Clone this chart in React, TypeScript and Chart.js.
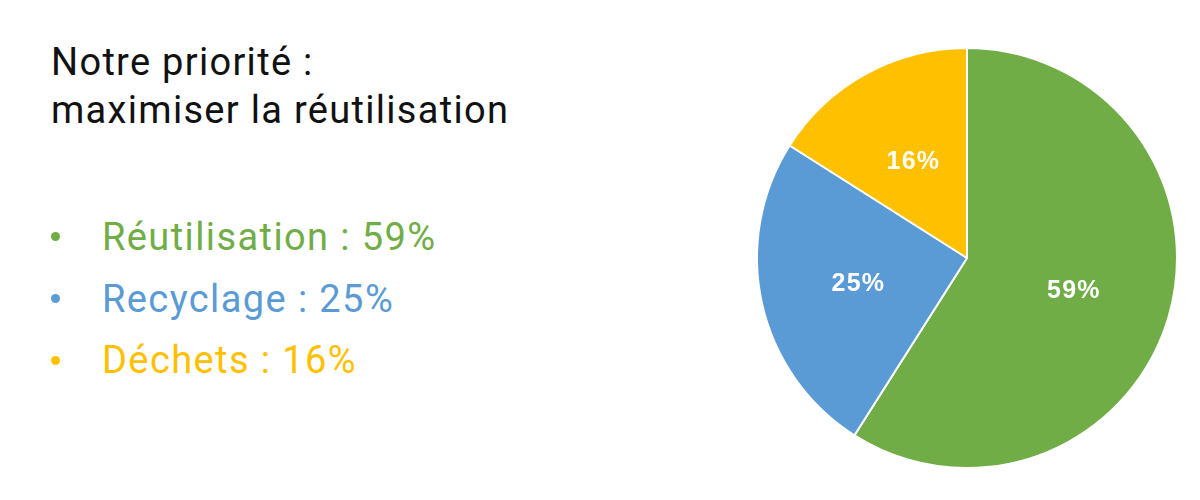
import { useEffect, useRef } from "react";
import Chart from "chart.js/auto";

const categories = ["Réutilisation", "Recyclage", "Déchets"];
const shares = [59, 25, 16];
const sliceColors = ["#70AD47", "#5B9BD5", "#FFC000"];
const titleLines = ["Notre priorité :", "maximiser la réutilisation"];

const sliceLabels = {
  id: "sliceLabels",
  afterDatasetsDraw(chart: Chart) {
    const { ctx } = chart;
    const meta = chart.getDatasetMeta(0);
    ctx.save();
    ctx.fillStyle = "#ffffff";
    ctx.font = "bold 25px 'Liberation Sans', Arial, sans-serif";
    (ctx as any).letterSpacing = "1.2px";
    ctx.textAlign = "center";
    ctx.textBaseline = "middle";
    meta.data.forEach((arc: any, i) => {
      const { x, y, startAngle, endAngle, outerRadius } = arc.getProps(
        ["x", "y", "startAngle", "endAngle", "outerRadius"],
        true
      );
      const mid = (startAngle + endAngle) / 2;
      const r = outerRadius * 0.53;
      ctx.fillText(shares[i] + "%", x + Math.cos(mid) * r, y + Math.sin(mid) * r + 2);
    });
    ctx.restore();
  }
};

export default function App() {
  const canvasRef = useRef<HTMLCanvasElement | null>(null);
  const chartRef = useRef<Chart | null>(null);

  useEffect(() => {
    document.body.style.margin = "0";
    if (!canvasRef.current) {
      return;
    }
    chartRef.current?.destroy();
    chartRef.current = new Chart(canvasRef.current, {
      type: "pie",
      data: {
        labels: categories,
        datasets: [
          {
            data: shares,
            backgroundColor: sliceColors,
            borderColor: "#ffffff",
            borderWidth: 2
          }
        ]
      },
      options: {
        animation: false,
        responsive: false,
        layout: { padding: 9 },
        plugins: {
          legend: { display: false },
          tooltip: { enabled: false }
        }
      },
      plugins: [sliceLabels]
    });

    return () => {
      chartRef.current?.destroy();
      chartRef.current = null;
    };
  }, []);

  const textFont = "Roboto, 'Noto Sans', sans-serif";

  return (
    <div
      style={{
        position: "relative",
        width: 1200,
        height: 500,
        background: "#ffffff",
        fontFamily: textFont,
        overflow: "hidden"
      }}
    >
      {titleLines.map((line, i) => (
        <div
          key={line}
          style={{
            position: "absolute",
            left: 51,
            top: 43 + i * 48,
            fontSize: 38,
            lineHeight: "38px",
            letterSpacing: 1.3,
            color: "#111111",
            whiteSpace: "nowrap"
          }}
        >
          {line}
        </div>
      ))}
      {categories.map((name, i) => (
        <div key={name}>
          <div
            style={{
              position: "absolute",
              left: 51,
              top: 231.5 + i * 62,
              width: 9,
              height: 9,
              borderRadius: "50%",
              background: sliceColors[i]
            }}
          />
          <div
            style={{
              position: "absolute",
              left: 102,
              top: 218 + i * 61.5,
              fontSize: 38,
              lineHeight: "38px",
              letterSpacing: 1.4,
              color: sliceColors[i],
              whiteSpace: "nowrap"
            }}
          >
            {name} : {shares[i]}%
          </div>
        </div>
      ))}
      <canvas
        ref={canvasRef}
        width={440}
        height={440}
        style={{ position: "absolute", left: 746.5, top: 38, width: 440, height: 440 }}
      />
    </div>
  );
}
